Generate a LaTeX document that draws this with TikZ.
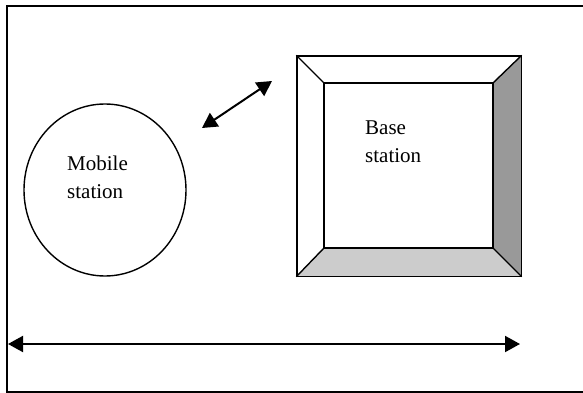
\documentclass[tikz,border=0pt]{standalone}
\usepackage{fontspec}
\setmainfont{Liberation Serif}
\usetikzlibrary{arrows.meta,positioning,shapes.geometric}

\begin{document}
\begin{tikzpicture}[
  x=1pt,y=-1pt,
  font=\fontsize{21}{28}\selectfont,
  outline/.style={draw,line width=1.4pt,inner sep=0pt},
  txt/.style={align=left,inner sep=0pt,anchor=base west},
  arr/.style={{Triangle[length=15pt,width=16pt]}-{Triangle[length=15pt,width=16pt]},line width=2pt}
]
\useasboundingbox (0,0) rectangle (583,393);
\clip (0,0) rectangle (583,393);
% frame
\draw[line width=2.5pt] (7,6) rectangle (600,392);
% mobile station
\node[outline,ellipse,minimum width=162pt,minimum height=172pt] (ms) at (105,190) {};
\node[txt] (mstxt) at (67,198) {Mobile\\station};
% base station
\node[outline,rectangle,minimum width=224pt,minimum height=220pt] (bs) at (409,166) {};
\node[outline,rectangle,minimum width=169pt,minimum height=165pt] (bsin) at (408.5,165.5) {};
\fill[gray!80] (bs.north east) -- (bsin.north east) -- (bsin.south east) -- (bs.south east) -- cycle;
\fill[gray!40] (bs.south west) -- (bsin.south west) -- (bsin.south east) -- (bs.south east) -- cycle;
\draw[line width=1.4pt] (bs.north west) -- (bsin.north west) (bs.north east) -- (bsin.north east)
  (bs.south west) -- (bsin.south west) (bs.south east) -- (bsin.south east);
\draw[line width=1.4pt] (bs.north west) rectangle (bs.south east);
\draw[line width=1.4pt] (bsin.north west) rectangle (bsin.south east);
\node[txt] (bstxt) at (365,162) {Base\\station};
% radio link
\coordinate (linkA) at (202,128);
\coordinate (linkB) at (272,81);
\draw[arr] (linkA) -- (linkB);
% distance
\coordinate (distL) at (8,344);
\coordinate (distR) at (520,344);
\draw[arr] (distL) -- (distR);
\end{tikzpicture}
\end{document}
